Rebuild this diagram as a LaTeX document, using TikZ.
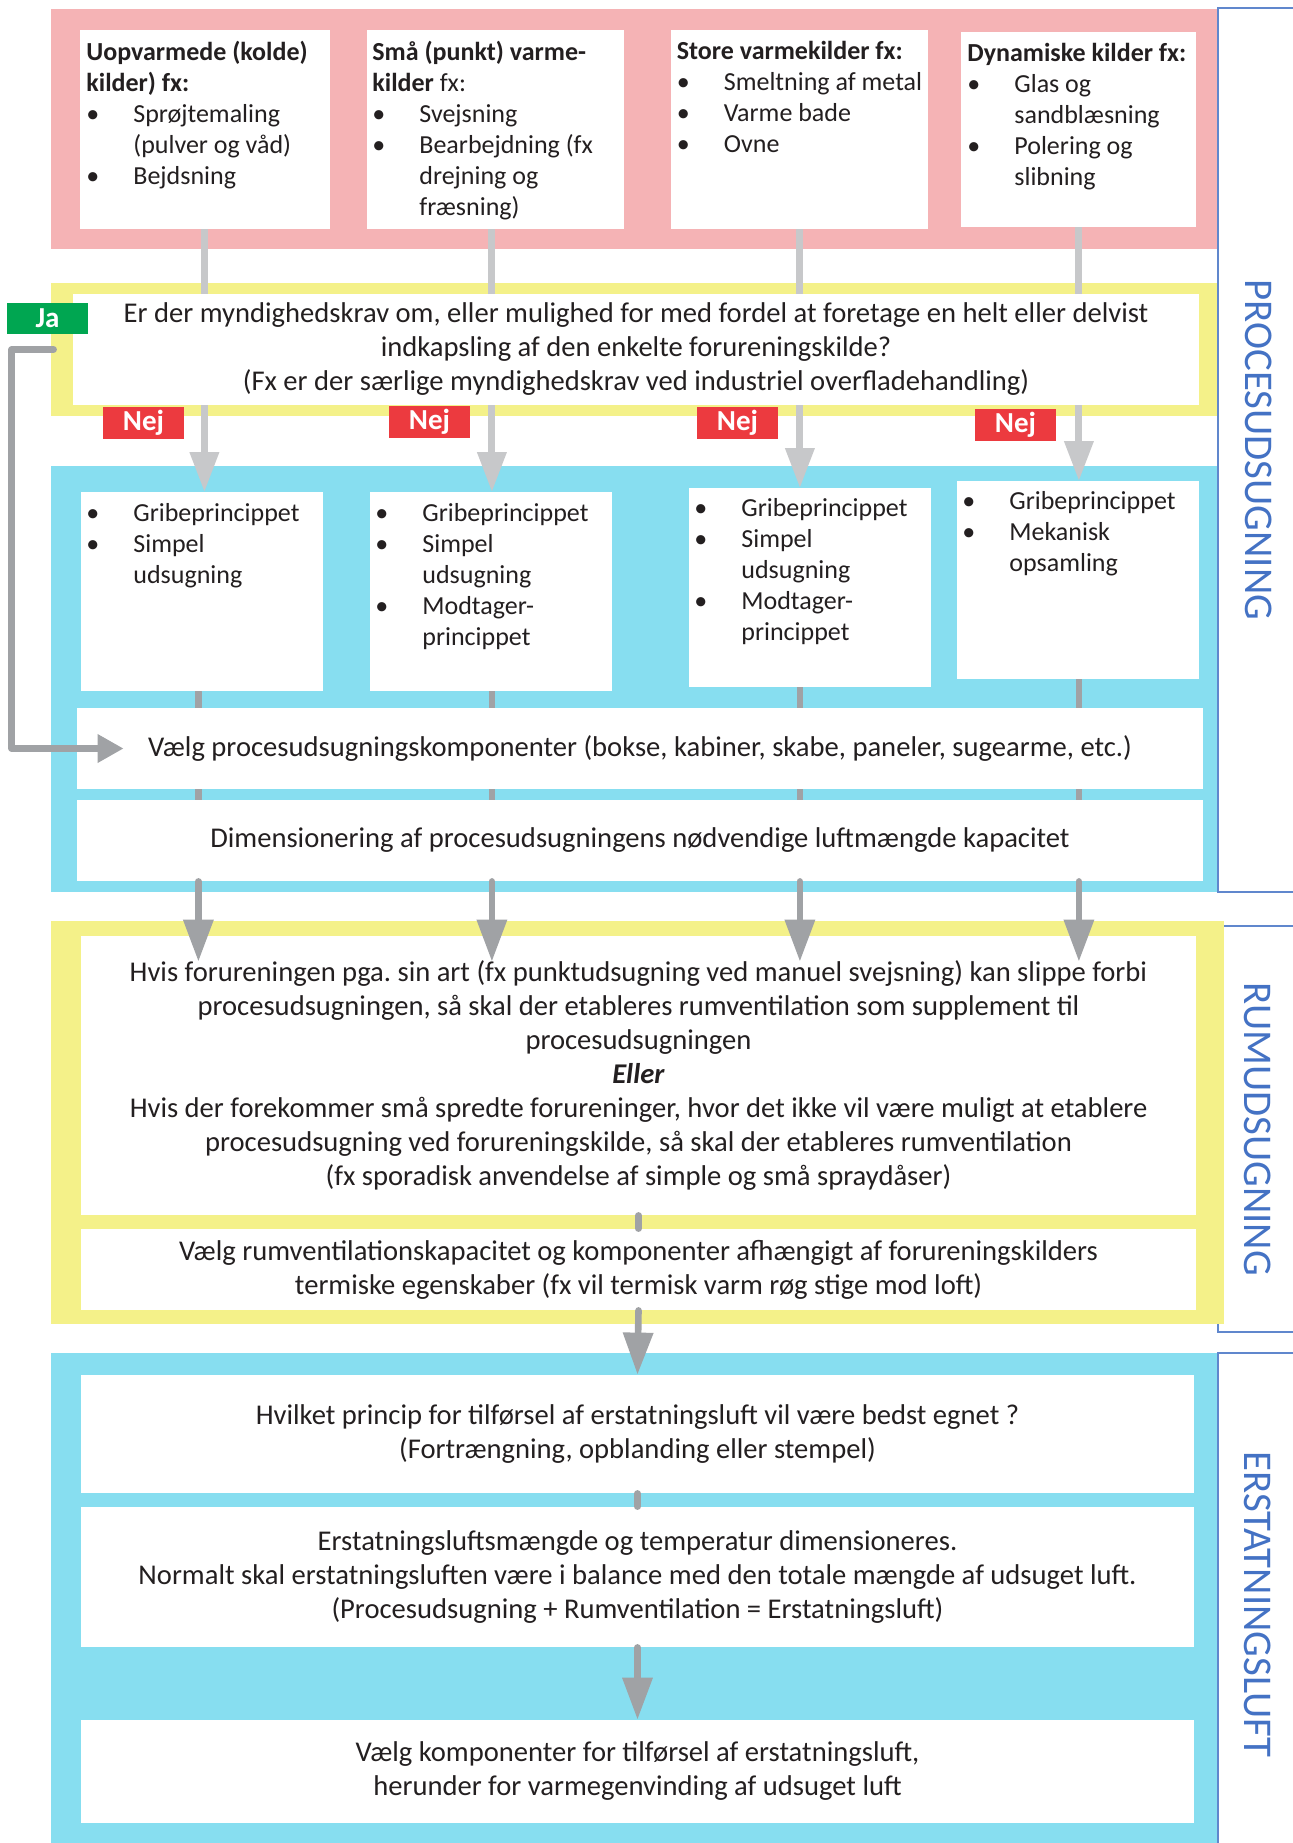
\documentclass[tikz,border=0pt]{standalone}
\usepackage{fontspec}
\setmainfont{Carlito}
\usetikzlibrary{arrows.meta}
\frenchspacing

\definecolor{pinkband}{HTML}{F5B3B5}
\definecolor{yellowband}{HTML}{F4F189}
\definecolor{blueband}{HTML}{87DEF0}
\definecolor{nejred}{HTML}{EC3A3F}
\definecolor{jagreen}{HTML}{00A651}
\definecolor{arrowlight}{HTML}{C7C8CA}
\definecolor{arrowdark}{HTML}{A0A2A5}
\definecolor{frameblue}{HTML}{4472C4}
\definecolor{inktext}{HTML}{231F20}

\pgfdeclarelayer{bg}
\pgfsetlayers{bg,main}

\newcommand{\srcfont}{\fontsize{13}{15.5}\selectfont}
\newcommand{\flowfont}{\fontsize{14.3}{17}\selectfont}
\newcommand{\itm}{\makebox[23.5pt][l]{•}}
\newcommand{\cont}{\hspace*{23.5pt}}

\tikzset{
  wbox/.style={fill=white, inner sep=0pt, anchor=north west},
  srctext/.style={anchor=north west, align=left, inner sep=0pt, font=\srcfont, text=inktext},
  flowbox/.style={fill=white, inner sep=0pt, align=center, font=\flowfont, text=inktext, minimum width=563pt},
  nejtag/.style={fill=nejred, text=white, font=\fontsize{14.5}{16}\selectfont\bfseries, minimum width=40.5pt, minimum height=16pt, inner sep=0pt},
  jatag/.style={nejtag, fill=jagreen},
  sidelabel/.style={rotate=-90, text=frameblue, font=\fontsize{20.4}{24}\selectfont},
  sideframe/.style={draw=frameblue!85, line width=0.6pt},
  lightarrow/.style={draw=arrowlight, line width=3.5pt, line cap=round, -{Triangle[length=20pt,width=14pt]}},
  darkline/.style={draw=arrowdark, line width=3.3pt, line cap=round, line join=round},
  darkarrow/.style={darkline, -{Triangle[length=21pt,width=14.5pt]}}
}

\begin{document}
\begin{tikzpicture}[x=0.5pt, y=-0.5pt]
  \useasboundingbox (0,0) rectangle (1293,1843);

  \node[wbox, minimum width=125pt, minimum height=99.5pt] (s1) at (80,30) {};
  \node[wbox, minimum width=128.5pt, minimum height=99.5pt] (s2) at (367,30) {};
  \node[wbox, minimum width=128.5pt, minimum height=99.5pt] (s3) at (671,30) {};
  \node[wbox, minimum width=117.5pt, minimum height=97.5pt] (s4) at (961,32) {};

  \node[srctext] (s1t) at ([shift={(3pt,-5.5pt)}]s1.north west)
    {\textbf{Uopvarmede (kolde)}\\\textbf{kilder) fx:}\\\itm Sprøjtemaling\\\cont (pulver og våd)\\\itm Bejdsning};
  \node[srctext] (s2t) at ([shift={(2.5pt,-5.5pt)}]s2.north west)
    {\textbf{Små (punkt) varme-}\\\textbf{kilder} fx:\\\itm Svejsning\\\itm Bearbejdning (fx\\\cont drejning og\\\cont fræsning)};
  \node[srctext] (s3t) at ([shift={(2.75pt,-5.5pt)}]s3.north west)
    {\textbf{Store varmekilder fx:}\\\itm Smeltning af metal\\\itm Varme bade\\\itm Ovne};
  \node[srctext] (s4t) at ([shift={(3pt,-5.5pt)}]s4.north west)
    {\textbf{Dynamiske kilder fx:}\\\itm Glas og\\\cont sandblæsning\\\itm Polering og\\\cont slibning};

  \node[flowbox, minimum height=55.5pt] (q) at (636,349.5)
    {Er der myndighedskrav om, eller mulighed for med fordel at foretage en helt eller delvist\\
     indkapsling af den enkelte forureningskilde?\\
     (Fx er der særlige myndighedskrav ved industriel overfladehandling)};
  \node[jatag, minimum height=15.5pt] (ja) at (47.5,318.5) {Ja};
  \node[nejtag] (nej1) at (143.5,423) {Nej};
  \node[nejtag] (nej2) at (429.5,422) {Nej};
  \node[nejtag] (nej3) at (737.5,423) {Nej};
  \node[nejtag] (nej4) at (1015.5,425) {Nej};

  \node[wbox, minimum width=121pt, minimum height=99.5pt] (g1) at (81,492) {};
  \node[wbox, minimum width=121pt, minimum height=99.5pt] (g2) at (370,492) {};
  \node[wbox, minimum width=121pt, minimum height=99.5pt] (g3) at (689,488) {};
  \node[wbox, minimum width=121pt, minimum height=99pt] (g4) at (957,481) {};

  \node[srctext] (g1t) at ([shift={(2.5pt,-5.5pt)}]g1.north west)
    {\itm Gribeprincippet\\\itm Simpel\\\cont udsugning};
  \node[srctext] (g2t) at ([shift={(2.5pt,-5.5pt)}]g2.north west)
    {\itm Gribeprincippet\\\itm Simpel\\\cont udsugning\\\itm Modtager-\\\cont princippet};
  \node[srctext] (g3t) at ([shift={(2.5pt,-5pt)}]g3.north west)
    {\itm Gribeprincippet\\\itm Simpel\\\cont udsugning\\\itm Modtager-\\\cont princippet};
  \node[srctext] (g4t) at ([shift={(2.5pt,-5pt)}]g4.north west)
    {\itm Gribeprincippet\\\itm Mekanisk\\\cont opsamling};

  \node[flowbox, minimum height=40.5pt] (vaelg) at (640,748.5)
    {Vælg procesudsugningskomponenter (bokse, kabiner, skabe, paneler, sugearme, etc.)};
  \node[flowbox, minimum height=40.5pt] (dim) at (640,840.5)
    {Dimensionering af procesudsugningens nødvendige luftmængde kapacitet};

  \node[flowbox, minimum width=557.5pt, minimum height=139.5pt] (r1) at (638.5,1075.5)
    {Hvis forureningen pga. sin art (fx punktudsugning ved manuel svejsning) kan slippe forbi\\
     procesudsugningen, så skal der etableres rumventilation som supplement til\\
     procesudsugningen\\
     \textbf{\textit{Eller}}\\
     Hvis der forekommer små spredte forureninger, hvor det ikke vil være muligt at etablere\\
     procesudsugning ved forureningskilde, så skal der etableres rumventilation\\
     (fx sporadisk anvendelse af simple og små spraydåser)};
  \node[flowbox, minimum width=557.5pt, minimum height=40.5pt] (r2) at (638.5,1269.5)
    {Vælg rumventilationskapacitet og komponenter afhængigt af forureningskilders\\
     termiske egenskaber (fx vil termisk varm røg stige mod loft)};

  \node[flowbox, minimum width=556.5pt, minimum height=59pt] (c1) at (637.5,1434)
    {Hvilket princip for tilførsel af erstatningsluft vil være bedst egnet ?\\
     (Fortrængning, opblanding eller stempel)};
  \node[flowbox, minimum width=556.5pt, minimum height=70pt] (c2) at (637.5,1577)
    {Erstatningsluftsmængde og temperatur dimensioneres.\\
     Normalt skal erstatningsluften være i balance med den totale mængde af udsuget luft.\\
     (Procesudsugning + Rumventilation = Erstatningsluft)};
  \node[flowbox, minimum width=556.5pt, minimum height=51.5pt] (c3) at (637.5,1771.5)
    {Vælg komponenter for tilførsel af erstatningsluft,\\
     herunder for varmegenvinding af udsuget luft};

  \node[sidelabel] (proc) at (1258.5,450) {PROCESUDSUGNING};
  \node[sidelabel] (rum) at (1257.5,1129) {RUMUDSUGNING};
  \node[sidelabel] (erst) at (1257.5,1604.5) {ERSTATNINGSLUFT};

  \begin{pgfonlayer}{bg}
    \fill[white] (0,0) rectangle (1293,1843);
    \draw[sideframe] (1293,8) -- (1218,8) -- (1218,892) -- (1293,892);
    \draw[sideframe] (1293,926) -- (1218,926) -- (1218,1332) -- (1293,1332);
    \draw[sideframe] (1293,1353) -- (1218,1353) -- (1218,1843);
    \fill[pinkband] (51,9) rectangle (1217,249);
    \fill[yellowband] (51,283) rectangle (1217,416);
    \fill[blueband] (51,466) rectangle (1217,892);
    \fill[yellowband] (51,921) rectangle (1224,1324);
    \fill[blueband] (51,1353) rectangle (1217,1843);
    \foreach \i/\lx/\dx in {1/-0.5/-3.5,2/-2/-2,3/0/0,4/0/0} {
      \draw[lightarrow] ([xshift=\lx pt]s\i.south) -- ([xshift=\lx pt]s\i.south |- g\i.north);
      \draw[darkline] ([xshift=\dx pt]s\i.south |- g\i.south) -- ([xshift=\dx pt]s\i.south |- dim.south);
    }
  \end{pgfonlayer}

  \foreach \i/\dx in {1/-3.5,2/-2,3/0,4/0}
    \draw[darkarrow, shorten >=-13pt] ([xshift=\dx pt]s\i.south |- dim.south) -- ([xshift=\dx pt]s\i.south |- r1.north);
  \draw[darkline, -{Triangle[length=13pt,width=13.5pt]}, shorten <=9.5pt, shorten >=-23.5pt]
    (q.west) -- ++(-30.5pt,0pt) |- (vaelg.west);
  \draw[darkline] (r1.south) -- (r2.north);
  \draw[darkarrow] (r2.south) -- (c1.north);
  \draw[darkline] (c1.south) -- (c2.north);
  \draw[darkarrow] (c2.south) -- (c3.north);
\end{tikzpicture}
\end{document}
